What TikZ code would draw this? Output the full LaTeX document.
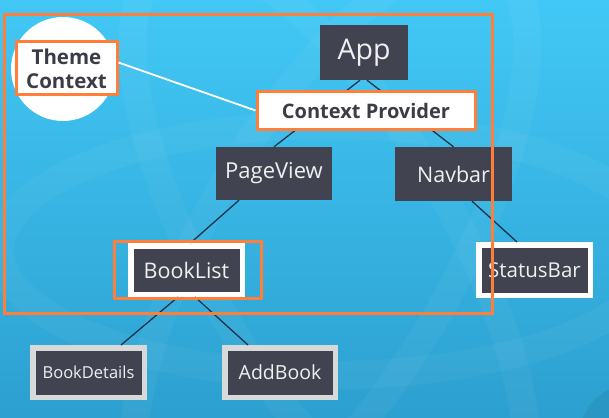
\documentclass[tikz,border=0pt]{standalone}
\usepackage{fontspec}
\setmainfont{Open Sans}
\usepackage{tikz}
\usetikzlibrary{calc}

\definecolor{bgtop}{RGB}{66,200,246}
\definecolor{bgbot}{RGB}{44,160,208}
\definecolor{slate}{RGB}{65,68,80}
\definecolor{ink}{RGB}{58,60,71}
\definecolor{wire}{RGB}{28,52,72}
\definecolor{hilite}{RGB}{255,126,58}
\definecolor{rim}{RGB}{216,218,218}

\begin{document}
\begin{tikzpicture}[x=1pt,y=-1pt,
    comp/.style={fill=slate,text=white!94!black,inner sep=0pt,minimum width=#1,minimum height=54},
    comp/.default=116,
    framed/.style={comp=#1,draw=white,line width=5.5,minimum height=48.5},
    greyed/.style={comp=#1,draw=rim,line width=5.5,minimum height=49.5},
    ctx/.style={fill=white,draw=hilite,line width=3,text=ink,inner sep=0pt,font=\bfseries},
    tie/.style={wire,line width=1.3},
    focus/.style={hilite,line width=3}]
    \useasboundingbox (0,0) rectangle (609,417);
    \shade[top color=bgtop,bottom color=bgbot] (0,0) rectangle (609,417);
    \foreach \a in {0,60,-60}
      \draw[white,opacity=0.04,line width=28] (330,250) ellipse[x radius=330,y radius=125,rotate=\a];
    \fill[bgbot!80!black,opacity=0.3] (630,435) circle (50);
    \fill[white] (63,69) circle (52);

    \node[comp=88,minimum height=55,font=\fontsize{28.5}{30}\selectfont] (App) at (364,52.5) {App};
    \node[comp,minimum height=53,font=\fontsize{22}{24}\selectfont] (PageView) at (274,173.5) {PageView};
    \node[comp=117,font=\fontsize{21.5}{24}\selectfont] (Navbar) at (453.5,174) {Navbar};
    \node[framed=111.5,font=\fontsize{21.5}{24}\selectfont] (BookList) at (186.5,270) {BookList};
    \node[framed=111.5,minimum height=50.5,font=\fontsize{20.5}{23}\selectfont] (StatusBar) at (534.5,270) {StatusBar};
    \node[greyed=111.5,font=\fontsize{16.5}{19}\selectfont] (BookDetails) at (88.5,372.5) {BookDetails};
    \node[greyed=110.5,font=\fontsize{19.5}{22}\selectfont] (AddBook) at (280,372.5) {AddBook};

    \draw[tie]
    ([xshift=-4]App.south) edge (PageView.north)
    ([xshift=3]App.south) edge (Navbar.north)
    ([xshift=-35]PageView.south) edge ([xshift=4]BookList.north)
    ([xshift=18.5]Navbar.south) edge ([xshift=-17.5]StatusBar.north)
    ([xshift=-8.5]BookList.south) edge ([xshift=32.5]BookDetails.north)
    ([xshift=8.5]BookList.south) edge ([xshift=-32]AddBook.north);

    \node[ctx,minimum width=218,minimum height=37,font=\bfseries\fontsize{20}{21}\selectfont] (Provider) at (366,110.5) {Context Provider};
    \node[ctx,minimum width=101,minimum height=53,align=center,font=\bfseries\fontsize{20.5}{24}\selectfont] (Theme) at (66.5,68.5) {Theme\\Context};
    \draw[white,line width=1.8] ([yshift=6]Theme.east) -- (Provider.west);

    \draw[focus] (114,241) rectangle (261,298);
    \draw[focus] (4,15) rectangle (492,313);
  \end{tikzpicture}
\end{document}
